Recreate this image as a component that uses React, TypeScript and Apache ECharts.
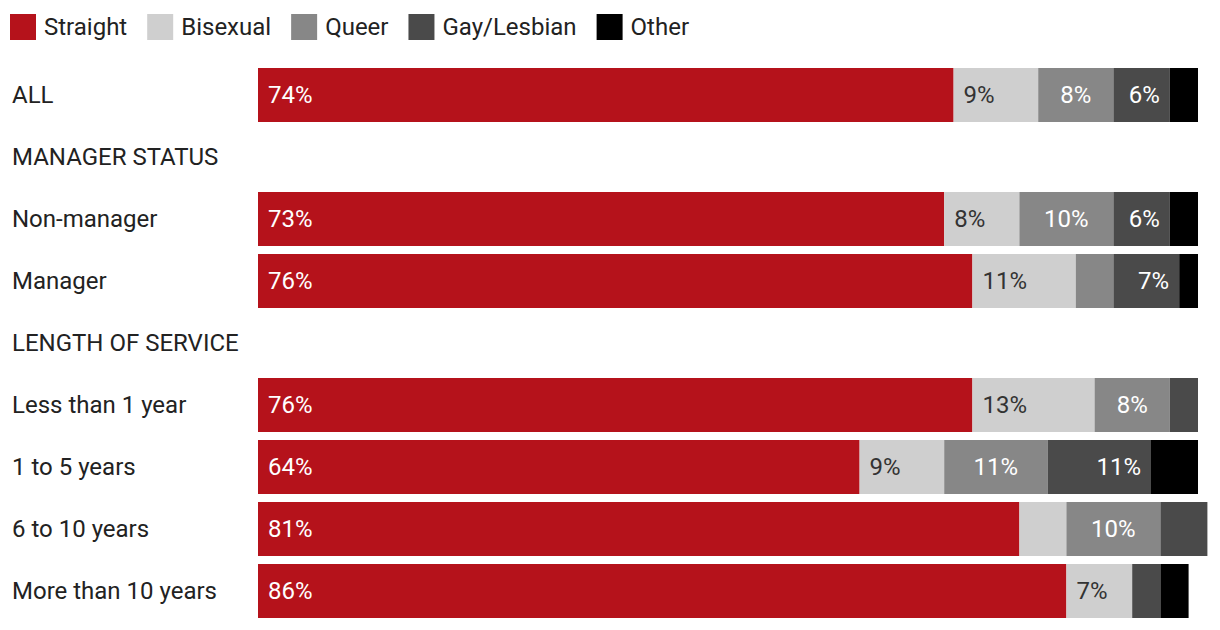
import React, { useEffect, useRef } from "react";
import * as echarts from "echarts";

const categories = [
  "ALL",
  "MANAGER STATUS",
  "Non-manager",
  "Manager",
  "LENGTH OF SERVICE",
  "Less than 1 year",
  "1 to 5 years",
  "6 to 10 years",
  "More than 10 years",
];
const seriesNames = ["Straight", "Bisexual", "Queer", "Gay/Lesbian", "Other"];
const straight = [74, null, 73, 76, null, 76, 64, 81, 86];
const bisexual = [9, null, 8, 11, null, 13, 9, 5, 7];
const queer = [8, null, 10, 4, null, 8, 11, 10, 0];
const gayLesbian = [6, null, 6, 7, null, 3, 11, 5, 3];
const other = [3, null, 3, 2, null, 0, 5, 0, 3];

const colors = ["#b5121b", "#cfcfcf", "#878787", "#4a4a4a", "#000000"];
const labelColors = ["#ffffff", "#333333", "#ffffff", "#ffffff", "#ffffff"];
const labelPos = ["insideLeft", "insideLeft", "inside", "insideRight", "inside"];

export default function App() {
  const ref = useRef<HTMLDivElement>(null);
  useEffect(() => {
    if (!ref.current) return;
    const chart = echarts.init(ref.current, null, { renderer: "svg" });
    const values = [straight, bisexual, queer, gayLesbian, other];
    chart.setOption({
      animation: false,
      textStyle: { fontFamily: "Roboto" },
      legend: {
        left: 10,
        top: 14,
        padding: 0,
        itemWidth: 26,
        itemHeight: 26,
        itemGap: 20,
        icon: "rect",
        textStyle: { fontSize: 24, color: "#222", fontFamily: "Roboto", padding: [0, 0, 0, 3] },
        data: seriesNames,
      },
      grid: { left: 258, right: 22, top: 64, bottom: 8, containLabel: false },
      xAxis: {
        type: "value",
        min: 0,
        max: 100,
        show: false,
      },
      yAxis: {
        type: "category",
        inverse: true,
        data: categories,
        axisLine: { show: false },
        axisTick: { show: false },
        axisLabel: {
          align: "left",
          margin: 246,
          fontSize: 24,
          color: "#222",
          fontFamily: "Roboto",
        },
      },
      series: seriesNames.map((name, i) => ({
        name,
        type: "bar",
        stack: "total",
        barWidth: 54,
        clip: false,
        itemStyle: { color: colors[i] },
        label: {
          show: true,
          position: labelPos[i],
          distance: 10,
          color: labelColors[i],
          fontSize: 24,
          fontFamily: "Roboto",
          formatter: (p: any) => (p.value != null && p.value >= 6 ? `${p.value}%` : ""),
        },
        data: values[i],
      })),
    });
    return () => chart.dispose();
  }, []);
  return (
    <div
      ref={ref}
      style={{ position: "fixed", left: 0, top: 0, width: 1220, height: 630, background: "#fff" }}
    />
  );
}
